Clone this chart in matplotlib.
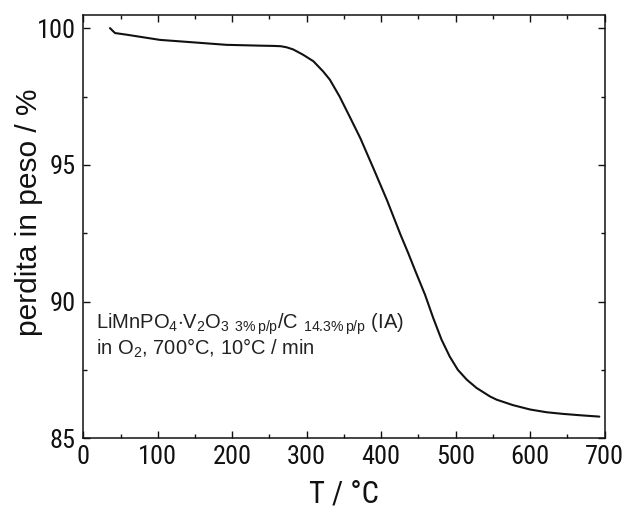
import matplotlib
matplotlib.use("Agg")
import matplotlib.pyplot as plt
from matplotlib import font_manager
from matplotlib.ticker import MultipleLocator

# Thermogravimetric curve (temperature in °C, residual mass in %)
temperature = [35.8, 40.3, 42.6, 58.3, 103, 148, 192, 237, 255, 265, 273, 282,
               295, 309, 322, 331, 344, 358, 372, 390, 408, 426, 436, 447, 459,
               470, 481, 492, 503, 515, 528, 546, 555, 577, 600, 622, 644, 667,
               693]
mass_pct = [100.00, 99.88, 99.82, 99.76, 99.57, 99.48, 99.39, 99.36, 99.35,
            99.34, 99.30, 99.22, 99.03, 98.79, 98.42, 98.12, 97.51, 96.75,
            95.98, 94.85, 93.70, 92.45, 91.80, 91.05, 90.25, 89.40, 88.62,
            88.00, 87.51, 87.15, 86.85, 86.54, 86.42, 86.22, 86.06, 85.96,
            85.90, 85.85, 85.80]

x_ticks = [0, 100, 200, 300, 400, 500, 600, 700]
y_ticks = [85, 90, 95, 100]

sample_label = (r"LiMnPO$_4$$\cdot$V$_2$O$_3$ $_{\mathrm{3\%\,p/p}}$/C "
                r"$_{\mathrm{14.3\%\,p/p}}$ (IA)")
condition_label = r"in O$_2$, 700°C, 10°C / min"

installed = {f.name for f in font_manager.fontManager.ttflist}
narrow_choices = ["Roboto Condensed", "Archivo Narrow", "Liberation Sans"]
narrow = next(n for n in narrow_choices if n in installed or n == "Liberation Sans")

plt.rcParams["font.family"] = ["Liberation Sans", "DejaVu Sans"]
plt.rcParams["mathtext.fontset"] = "custom"
plt.rcParams["mathtext.rm"] = "Liberation Sans"
plt.rcParams["mathtext.it"] = "Liberation Sans:italic"
plt.rcParams["mathtext.bf"] = "Liberation Sans:bold"

fig = plt.figure(figsize=(6.28, 5.14), dpi=100)
ax = fig.add_axes([0.1327, 0.1469, 0.8299, 0.8239])

ax.plot(temperature, mass_pct, color="#111111", lw=1.5,
        solid_capstyle="round", solid_joinstyle="round")

ax.set_xlim(0, 700)
ax.set_ylim(85, 100.48)
ax.set_xticks(x_ticks)
ax.set_yticks(y_ticks)
ax.xaxis.set_minor_locator(MultipleLocator(50))
ax.yaxis.set_minor_locator(MultipleLocator(2.5))

for s in ax.spines.values():
    s.set_linewidth(1.1)
    s.set_color("#111111")

ax.tick_params(which="both", direction="in", top=True, right=True,
               width=1.0, color="#111111")
ax.tick_params(which="major", length=5)
ax.tick_params(which="minor", length=3)
ax.tick_params(axis="x", which="major", pad=5)
ax.tick_params(axis="y", which="major", pad=5.5)

for lbl in ax.get_xticklabels() + ax.get_yticklabels():
    lbl.set_fontfamily(narrow)
    lbl.set_fontsize(19)
    lbl.set_color("#111111")

ax.set_xlabel("T / °C", fontsize=22, family=narrow, color="#111111", labelpad=7)
ax.set_ylabel("perdita in peso / %", fontsize=21.5, color="#111111")
ax.yaxis.set_label_coords(-0.077, 0.535)

ax.text(17.5, 89.03, sample_label, fontsize=14.5, color="#222222",
        ha="left", va="baseline")
ax.text(17.5, 88.08, condition_label, fontsize=14.5, color="#222222",
        ha="left", va="baseline")

fig.savefig("out.png", dpi=100, facecolor="white")
